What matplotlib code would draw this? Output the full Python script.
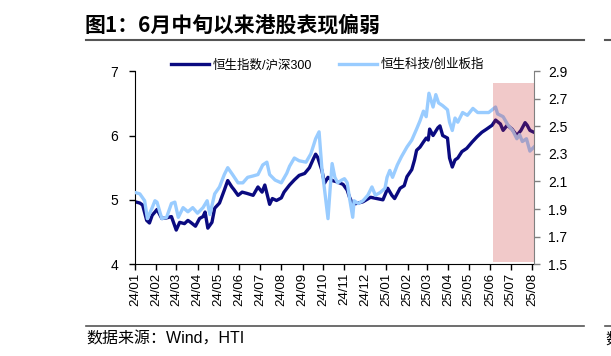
import matplotlib
matplotlib.use('Agg')
import matplotlib.pyplot as plt
import matplotlib.dates as mdates
import pandas as pd

CJK = ['Liberation Sans', 'Noto Sans CJK SC']

# ---- data ----
hsi_dates = ['2024-01-01', '2024-01-08', '2024-01-12', '2024-01-18', '2024-01-22', '2024-01-26',
             '2024-01-30', '2024-02-02', '2024-02-09', '2024-02-16', '2024-02-23', '2024-03-01',
             '2024-03-06', '2024-03-13', '2024-03-18', '2024-03-22', '2024-03-29', '2024-04-04',
             '2024-04-09', '2024-04-12', '2024-04-16', '2024-04-22', '2024-04-26', '2024-05-03',
             '2024-05-10', '2024-05-15', '2024-05-21', '2024-05-24', '2024-05-30', '2024-06-05',
             '2024-06-12', '2024-06-21', '2024-06-28', '2024-07-04', '2024-07-08', '2024-07-15',
             '2024-07-19', '2024-07-25', '2024-08-01', '2024-08-05', '2024-08-13', '2024-08-20',
             '2024-08-27', '2024-09-04', '2024-09-11', '2024-09-16', '2024-09-20', '2024-09-23',
             '2024-09-29', '2024-10-03', '2024-10-08', '2024-10-14', '2024-10-21', '2024-10-30',
             '2024-11-05', '2024-11-08', '2024-11-13', '2024-11-21', '2024-11-28', '2024-12-09',
             '2024-12-18', '2024-12-27', '2025-01-03', '2025-01-09', '2025-01-13', '2025-01-21',
             '2025-01-27', '2025-01-31', '2025-02-07', '2025-02-11', '2025-02-14', '2025-02-19',
             '2025-02-24', '2025-02-28', '2025-03-03', '2025-03-05', '2025-03-10', '2025-03-17',
             '2025-03-20', '2025-03-24', '2025-03-31', '2025-04-03', '2025-04-07', '2025-04-11',
             '2025-04-15', '2025-04-21', '2025-04-28', '2025-05-06', '2025-05-13', '2025-05-20',
             '2025-05-27', '2025-06-04', '2025-06-09', '2025-06-16', '2025-06-20', '2025-06-26',
             '2025-07-03', '2025-07-10', '2025-07-16', '2025-07-22', '2025-07-25', '2025-07-29',
             '2025-08-04']
hsi_vals = [4.97, 4.95, 4.92, 4.68, 4.64, 4.76,
            4.81, 4.85, 4.71, 4.72, 4.74, 4.53,
            4.65, 4.63, 4.68, 4.65, 4.59, 4.71,
            4.74, 4.81, 4.56, 4.65, 4.87, 4.95,
            5.15, 5.30, 5.20, 5.16, 5.07, 5.12,
            5.10, 5.07, 5.20, 5.12, 5.23, 4.93,
            5.02, 4.99, 5.03, 5.12, 5.23, 5.31,
            5.38, 5.41, 5.50, 5.62, 5.71, 5.66,
            5.46, 5.26, 5.35, 5.30, 5.28, 5.24,
            5.15, 5.05, 4.93, 4.95, 4.97, 5.04,
            5.02, 5.00, 5.18, 5.07, 5.02, 5.18,
            5.22, 5.36, 5.47, 5.62, 5.77, 5.82,
            5.90, 5.96, 5.93, 6.10, 6.00, 6.12,
            6.15, 6.00, 5.96, 5.65, 5.51, 5.62,
            5.65, 5.75, 5.80, 5.90, 5.98, 6.05,
            6.10, 6.16, 6.24, 6.18, 6.08, 6.16,
            6.10, 6.00, 6.08, 6.20, 6.16, 6.08,
            6.05]

tech_dates = ['2024-01-01', '2024-01-08', '2024-01-15', '2024-01-19', '2024-01-26', '2024-01-30',
              '2024-02-02', '2024-02-09', '2024-02-16', '2024-02-23', '2024-02-28', '2024-03-04',
              '2024-03-11', '2024-03-18', '2024-03-25', '2024-04-01', '2024-04-09', '2024-04-15',
              '2024-04-19', '2024-04-26', '2024-05-03', '2024-05-10', '2024-05-15', '2024-05-22',
              '2024-05-30', '2024-06-06', '2024-06-13', '2024-06-21', '2024-06-28', '2024-07-05',
              '2024-07-11', '2024-07-15', '2024-07-23', '2024-08-01', '2024-08-09', '2024-08-13',
              '2024-08-20', '2024-08-27', '2024-09-06', '2024-09-13', '2024-09-20', '2024-09-25',
              '2024-09-29', '2024-10-03', '2024-10-08', '2024-10-11', '2024-10-14', '2024-10-18',
              '2024-10-22', '2024-10-28', '2024-11-01', '2024-11-05', '2024-11-08', '2024-11-13',
              '2024-11-15', '2024-11-21', '2024-11-28', '2024-12-05', '2024-12-11', '2024-12-16',
              '2024-12-23', '2024-12-30', '2025-01-02', '2025-01-06', '2025-01-10', '2025-01-17',
              '2025-01-23', '2025-01-31', '2025-02-07', '2025-02-14', '2025-02-19', '2025-02-24',
              '2025-02-28', '2025-03-04', '2025-03-10', '2025-03-14', '2025-03-18', '2025-03-24',
              '2025-03-31', '2025-04-03', '2025-04-07', '2025-04-11', '2025-04-15', '2025-04-22',
              '2025-04-29', '2025-05-07', '2025-05-14', '2025-05-23', '2025-05-30', '2025-06-09',
              '2025-06-12', '2025-06-20', '2025-06-27', '2025-07-04', '2025-07-10', '2025-07-14',
              '2025-07-18', '2025-07-24', '2025-07-29', '2025-08-04']
tech_vals = [2.02, 2.01, 1.96, 1.83, 1.91, 1.96,
             1.95, 1.83, 1.84, 1.94, 1.95, 1.84,
             1.91, 1.88, 1.91, 1.87, 1.91, 1.96,
             1.86, 2.01, 2.06, 2.15, 2.20, 2.15,
             2.09, 2.09, 2.13, 2.14, 2.15, 2.22,
             2.24, 2.15, 2.11, 2.09, 2.16, 2.21,
             2.27, 2.25, 2.24, 2.30, 2.41, 2.46,
             2.20, 2.04, 1.83, 2.04, 2.23, 2.13,
             2.09, 2.11, 2.12, 2.09, 1.99, 1.84,
             1.96, 1.94, 1.96, 2.00, 2.06, 2.00,
             2.02, 2.05, 2.13, 2.18, 2.13, 2.22,
             2.28, 2.35, 2.40, 2.48, 2.54, 2.61,
             2.57, 2.74, 2.64, 2.73, 2.67, 2.65,
             2.62, 2.53, 2.47, 2.56, 2.53, 2.60,
             2.58, 2.63, 2.60, 2.60, 2.60, 2.64,
             2.59, 2.57, 2.51, 2.47, 2.41, 2.44,
             2.39, 2.41, 2.32, 2.35]

series_labels = ['恒生指数/沪深300', '恒生科技/创业板指']
shade_start, shade_end = '2025-06-05', '2025-08-04'
x_start, x_end = '2024-01-01', '2025-08-04'

NAVY = '#0A0A80'
LIGHT = '#99CCFF'

fig = plt.figure(figsize=(6.11, 3.56), dpi=100)
fig.patch.set_facecolor('white')
ax = fig.add_axes([0.221, 0.258, 0.653, 0.542])
ax2 = ax.twinx()

l1, = ax.plot(pd.to_datetime(hsi_dates), hsi_vals, color=NAVY, lw=2.4, solid_joinstyle='round')
l2, = ax2.plot(pd.to_datetime(tech_dates), tech_vals, color=LIGHT, lw=2.4, solid_joinstyle='round')

# shaded window, drawn over both lines
ax2.axvspan(pd.Timestamp(shade_start), pd.Timestamp(shade_end), ymin=0.012, ymax=0.938,
            color='#C82828', alpha=0.25, lw=0, zorder=5)

ax.set_xlim(pd.Timestamp(x_start), pd.Timestamp(x_end))
ax.set_ylim(4, 7)
ax.set_yticks([4, 5, 6, 7])
ax2.set_ylim(1.5, 2.9)
ax2.set_yticks([1.5, 1.7, 1.9, 2.1, 2.3, 2.5, 2.7, 2.9])
ax2.set_yticklabels(['1.5', '1.7', '1.9', '2.1', '2.3', '2.5', '2.7', '2.9'])

ax.xaxis.set_major_locator(mdates.MonthLocator())
ax.xaxis.set_major_formatter(mdates.DateFormatter('%y/%m'))
for lab in ax.get_xticklabels():
    lab.set_rotation(90)

for a in (ax, ax2):
    a.spines['top'].set_visible(False)
ax.spines['right'].set_visible(False)
ax.spines['left'].set_color('black')
ax.spines['bottom'].set_color('black')
ax2.spines['left'].set_visible(False)
ax2.spines['bottom'].set_visible(False)
ax2.spines['right'].set_color('#808080')

ax.tick_params(axis='y', direction='out', length=4, width=1, labelsize=10, pad=8)
ax.tick_params(axis='x', direction='out', length=4, width=1, labelsize=9.5, pad=2)
ax2.tick_params(axis='y', direction='out', length=4, width=1, color='#808080',
                labelsize=10, pad=6)
for lab in ax.get_yticklabels() + ax.get_xticklabels() + ax2.get_yticklabels():
    lab.set_family('Liberation Sans')

leg = ax.legend([l1, l2], series_labels, loc='center left', ncol=2,
                bbox_to_anchor=(0.28, 0.817), bbox_transform=fig.transFigure,
                frameon=False, handlelength=3.0, handletextpad=0.3,
                columnspacing=2.2, borderpad=0, borderaxespad=0, prop={'family': CJK, 'size': 9})

# title, rules and source
fig.text(0.138, 0.93, '图1：6月中旬以来港股表现偏弱', fontsize=15, fontweight='bold',
         family=['Noto Sans CJK SC'], ha='left', va='center')
fig.add_artist(plt.Line2D([0.141, 0.956], [0.888, 0.888], color='#555555', lw=1.5))
fig.add_artist(plt.Line2D([0.99, 1.0], [0.888, 0.888], color='#555555', lw=1.5))
fig.add_artist(plt.Line2D([0.141, 0.956], [0.084, 0.084], color='#555555', lw=1.2))
fig.add_artist(plt.Line2D([0.99, 1.0], [0.084, 0.084], color='#555555', lw=1.2))
fig.text(0.141, 0.048, '数据来源：Wind，HTI', fontsize=11.5, family=CJK, ha='left', va='center')
fig.text(0.99, 0.048, '数', fontsize=11.5, family=['Noto Sans CJK SC'], ha='left', va='center')

fig.savefig('out.png', dpi=100, facecolor='white')
